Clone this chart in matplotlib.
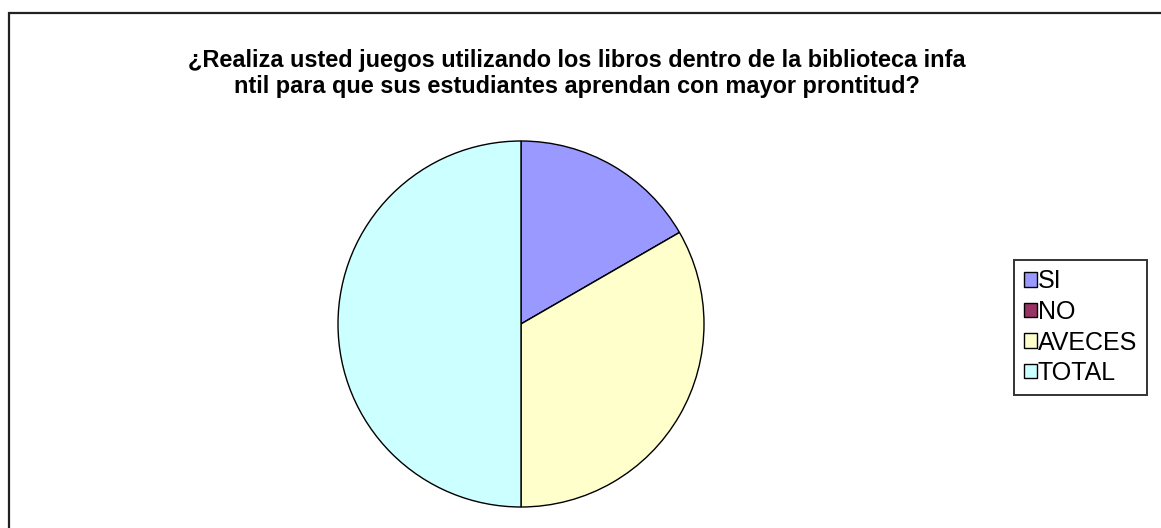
import matplotlib
matplotlib.use("Agg")
import matplotlib.pyplot as plt
from matplotlib.patches import Rectangle, Patch

categories = ["SI", "NO", "AVECES", "TOTAL"]
values = [1, 0, 2, 3]
colors = ["#9999FF", "#993366", "#FFFFCC", "#CCFFFF"]
title_lines = ["¿Realiza usted juegos utilizando los libros dentro de la biblioteca infa",
               "ntil para que sus estudiantes aprendan con mayor prontitud?"]

W, H = 1161, 528
fig = plt.figure(figsize=(W / 100, H / 100), dpi=100)
fig.patch.set_facecolor("white")

def fx(px):
    return px / W

def fy(py):
    return 1 - py / H

# outer border (cropped at right and bottom)
fig.patches.append(Rectangle((fx(9), fy(600)), 2.0, fy(13) - fy(600),
                             transform=fig.transFigure, fill=False,
                             edgecolor="#222222", linewidth=1.6))

# pie
cx, cy, r = 521, 324, 183
ax = fig.add_axes([fx(cx - r), fy(cy + r), 2 * r / W, 2 * r / H])
ax.pie(values, colors=colors, startangle=90, counterclock=False, radius=1,
       wedgeprops=dict(edgecolor="black", linewidth=1.0))
ax.set_xlim(-1, 1)
ax.set_ylim(-1, 1)
ax.set_aspect("auto")
ax.axis("off")

# title
fig.text(fx(577), fy(61), title_lines[0], ha="center", va="center",
         fontsize=16.9, fontweight="bold", family="Liberation Sans")
fig.text(fx(577), fy(86), title_lines[1], ha="center", va="center",
         fontsize=16.9, fontweight="bold", family="Liberation Sans")

# legend
handles = [Patch(facecolor=c, edgecolor="black", linewidth=1.0) for c in colors]
leg = fig.legend(handles, categories, loc="upper left",
                 bbox_to_anchor=(fx(1014), fy(260)), bbox_transform=fig.transFigure,
                 frameon=True, fancybox=False, edgecolor="black",
                 prop={"family": "Liberation Sans", "size": 18},
                 handlelength=0.52, handleheight=0.52, handletextpad=0.05,
                 labelspacing=0.26, borderpad=0.38, borderaxespad=0)
leg.get_frame().set_linewidth(1.4)

fig.savefig("out.png", dpi=100, facecolor="white")
